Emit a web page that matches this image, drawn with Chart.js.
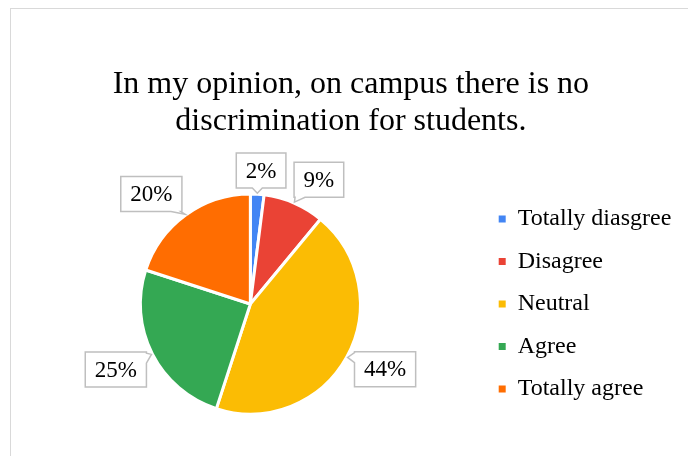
<!DOCTYPE html>
<html>
<head>
<meta charset="utf-8">
<script src="https://cdn.jsdelivr.net/npm/chart.js@4.4.1/dist/chart.umd.min.js"></script>
<style>
  html, body { margin: 0; padding: 0; background: #fff; overflow: hidden; }
</style>
</head>
<body>
<canvas id="pieChart" width="688" height="456"></canvas>
<script>
// survey answers and their share in percent
const answers = ["Totally diasgree", "Disagree", "Neutral", "Agree", "Totally agree"];
const shares = [2, 9, 44, 25, 20];
const sliceColors = ["#4285F4", "#EA4335", "#FBBC04", "#34A853", "#FF6D01"];
const titleLines = ["In my opinion, on campus there is no", "discrimination for students."];

const serif = "'Liberation Serif', 'Times New Roman', serif";

// light grey frame round the chart
const framePlugin = {
  id: "frame",
  beforeDraw(chart) {
    const ctx = chart.ctx;
    ctx.save();
    ctx.strokeStyle = "#d9d9d9";
    ctx.lineWidth = 1;
    ctx.strokeRect(10.5, 8.5, chart.width + 20, chart.height + 20);
    ctx.restore();
  }
};

// percentage labels in boxes, with a small pointer to the slice
const calloutPlugin = {
  id: "callouts",
  afterDatasetsDraw(chart, args, opts) {
    const ctx = chart.ctx;
    const arcs = chart.getDatasetMeta(0).data;
    ctx.save();
    ctx.font = opts.size + "px " + serif;
    arcs.forEach((arc, i) => {
      const { x, y, startAngle, endAngle, outerRadius } =
        arc.getProps(["x", "y", "startAngle", "endAngle", "outerRadius"], true);
      const mid = (startAngle + endAngle) / 2;
      const tip = {
        x: x + Math.cos(mid) * (outerRadius + 1),
        y: y + Math.sin(mid) * (outerRadius + 1)
      };
      const text = chart.data.datasets[0].data[i] + "%";
      const hw = ctx.measureText(text).width / 2 + opts.padX;
      const hh = opts.height / 2;
      const a = mid + (opts.shift[i] || 0) * Math.PI / 180;
      const ux = Math.cos(a), uy = Math.sin(a);
      const d = outerRadius + opts.gap + hw * Math.abs(ux) + hh * Math.abs(uy);
      const cx = x + ux * d, cy = y + uy * d;
      const l = cx - hw, r = cx + hw, t = cy - hh, b = cy + hh;

      // which side of the box the pointer leaves from
      const dxOut = tip.x < l ? l - tip.x : (tip.x > r ? tip.x - r : 0);
      const dyOut = tip.y < t ? t - tip.y : (tip.y > b ? tip.y - b : 0);
      let side;
      if (dxOut > 1.5 * dyOut) side = tip.x < l ? "left" : "right";
      else side = tip.y < t ? "top" : "bottom";
      const clamp = (v, lo, hi) => Math.max(lo, Math.min(hi, v));
      const bx = clamp(tip.x, l + 6, r - 6);
      const by = clamp(tip.y, t + 6, b - 6);
      const w = 5;

      ctx.beginPath();
      ctx.moveTo(l, t);
      if (side === "top") { ctx.lineTo(bx - w, t); ctx.lineTo(tip.x, tip.y); ctx.lineTo(bx + w, t); }
      ctx.lineTo(r, t);
      if (side === "right") { ctx.lineTo(r, by - w); ctx.lineTo(tip.x, tip.y); ctx.lineTo(r, by + w); }
      ctx.lineTo(r, b);
      if (side === "bottom") { ctx.lineTo(bx + w, b); ctx.lineTo(tip.x, tip.y); ctx.lineTo(bx - w, b); }
      ctx.lineTo(l, b);
      if (side === "left") { ctx.lineTo(l, by + w); ctx.lineTo(tip.x, tip.y); ctx.lineTo(l, by - w); }
      ctx.closePath();
      ctx.fillStyle = "#fff";
      ctx.fill();
      ctx.strokeStyle = opts.borderColor;
      ctx.lineWidth = 1.5;
      ctx.stroke();

      ctx.fillStyle = opts.color;
      ctx.textAlign = "center";
      ctx.textBaseline = "middle";
      ctx.fillText(text, cx, cy + 1);
    });
    ctx.restore();
  }
};

new Chart("pieChart", {
  type: "pie",
  data: {
    labels: answers,
    datasets: [{
      data: shares,
      backgroundColor: sliceColors,
      borderColor: "#ffffff",
      borderWidth: 3
    }]
  },
  options: {
    responsive: false,
    animation: false,
    devicePixelRatio: 1,
    radius: 110,
    layout: {
      padding: { left: 20.5, right: 6.7, top: 0, bottom: 8 }
    },
    plugins: {
      title: {
        display: true,
        text: titleLines,
        color: "#000",
        font: { family: serif, size: 32, weight: "normal", lineHeight: 1.15 },
        padding: { top: 66.5, bottom: 19.9 }
      },
      legend: {
        position: "right",
        fullSize: false,
        labels: {
          boxWidth: 7,
          boxHeight: 7,
          padding: 18.5,
          color: "#000",
          font: { family: serif, size: 24 },
          generateLabels: (chart) => chart.data.labels.map((label, i) => ({
            text: label,
            fillStyle: sliceColors[i],
            strokeStyle: sliceColors[i],
            lineWidth: 0,
            index: i
          }))
        }
      },
      tooltip: { enabled: false },
      callouts: {
        size: 23,
        padX: 9.5,
        height: 35,
        gap: 4.5,
        shift: [1, 5.5, -3, 1, -6],
        color: "#000",
        borderColor: "#bfbfbf"
      }
    }
  },
  plugins: [framePlugin, calloutPlugin]
});
</script>
</body>
</html>
